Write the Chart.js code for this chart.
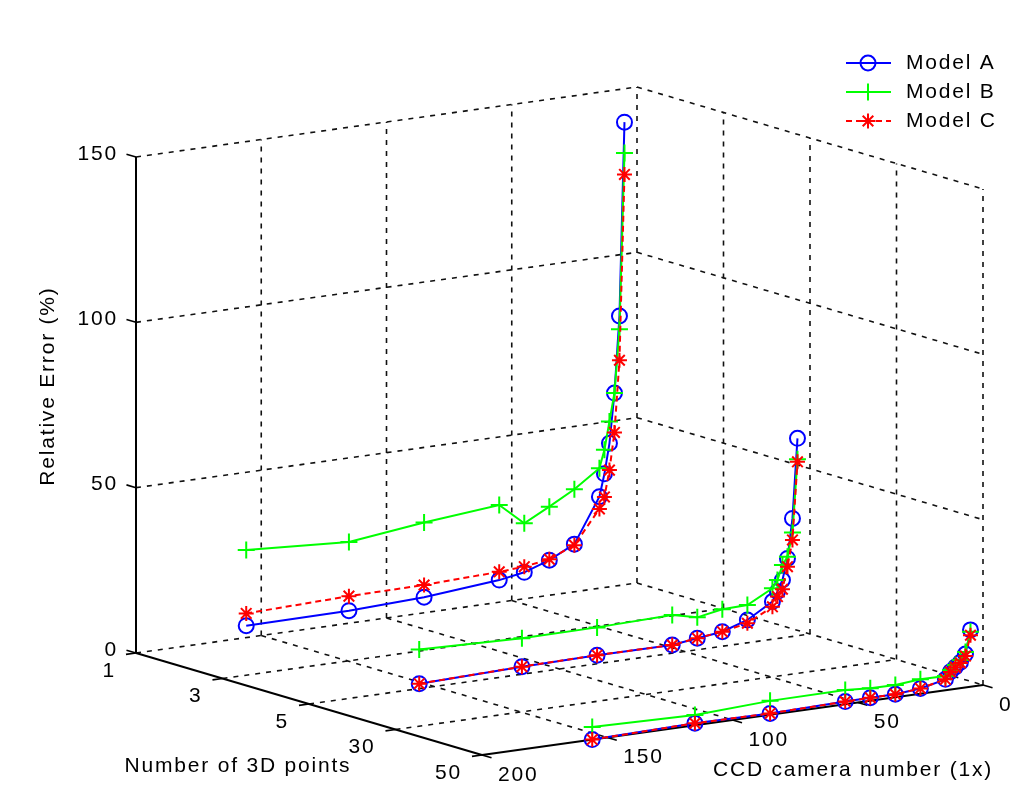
<!DOCTYPE html>
<html>
<head>
<meta charset="utf-8">
<script src="https://cdn.jsdelivr.net/npm/chart.js@4/dist/chart.umd.min.js"></script>
<style>
    html, body { margin: 0; padding: 0; background: #fff; }
    #wrap { width: 1024px; height: 795px; }
</style>
</head>
<body>
<div id="wrap"><canvas id="chart"></canvas></div>
<script>
// ---- data ----
const cameraNumbers = [156, 115, 85, 55, 45, 35, 25, 15, 13, 11, 9, 7, 5];
const cameraTicks = [0, 50, 100, 150, 200];
const pointTickLabels = ['1', '3', '5', '30', '50'];   // drawn at index 1..5
const errorTicks = [0, 50, 100, 150];
const sliceIndex = [1, 3, 5];                          // curves lie at "1", "5" and "50"

const errorA_p1 = [3.6, 3.8, 4.7, 6.7, 8.0, 10.6, 14.4, 27.7, 34.4, 43.4, 58.4, 81.5, 139.9];
const errorA_p5 = [1.5, 2.3, 2.6, 2.5, 3.5, 4.4, 6.9, 11.4, 14.2, 17.5, 23.8, 35.7, 59.7];
const errorA_p50 = [0.0, 0.6, 0.4, 0.8, 0.9, 0.9, 1.6, 3.3, 5.4, 6.6, 7.8, 10.1, 17.2];

const errorB_p1 = [26.5, 24.6, 27.3, 29.4, 22.8, 26.8, 31.0, 36.3, 41.7, 50.0, 58.4, 77.5, 130.6];
const errorB_p5 = [11.8, 10.9, 11.0, 11.6, 9.8, 11.2, 11.4, 15.4, 17.7, 22.0, 24.3, 31.4, 53.4];
const errorB_p50 = [3.8, 3.1, 4.2, 4.3, 3.8, 3.7, 4.4, 4.3, 5.9, 7.2, 8.5, 10.7, 16.6];

const errorC_p1 = [7.3, 8.2, 8.4, 9.2, 9.7, 10.9, 14.1, 24.0, 27.4, 35.3, 46.5, 68.1, 124.1];
const errorC_p5 = [1.5, 2.3, 2.6, 2.5, 3.5, 4.4, 5.9, 9.8, 12.7, 14.7, 21.3, 29.2, 52.6];
const errorC_p50 = [0.0, 0.6, 0.4, 0.8, 0.9, 0.9, 1.6, 3.3, 5.3, 6.5, 7.6, 9.5, 15.6];

const modelNames = ['Model A', 'Model B', 'Model C'];

// ---- 3D box placement on the page (orthographic view) ----
const CAM_MIN = 0, CAM_MAX = 200, ERR_MIN = 0, ERR_MAX = 150;
const cornerLeft = { x: 136, y: 653 };   // cam=200, points idx 1
const cornerFront = { x: 482, y: 755 };  // cam=200, points idx 5
const cornerRight = { x: 983, y: 685 };  // cam=0,   points idx 5
const boxHeight = 496;

function proj(cam, idx, err) {
    const u = (CAM_MAX - cam) / (CAM_MAX - CAM_MIN);
    const v = (idx - 1) / (pointTickLabels.length - 1);
    const w = (err - ERR_MIN) / (ERR_MAX - ERR_MIN);
    return {
        x: cornerLeft.x + u * (cornerRight.x - cornerFront.x) + v * (cornerFront.x - cornerLeft.x),
        y: cornerLeft.y + u * (cornerRight.y - cornerFront.y) + v * (cornerFront.y - cornerLeft.y) - w * boxHeight
    };
}

const FONT = '21px "Liberation Sans", Arial, sans-serif';
const NIDX = pointTickLabels.length;

function segment(a, b, opts) {
    return Object.assign({
        data: [proj(...a), proj(...b)],
        showLine: true,
        pointRadius: 0,
        borderColor: '#000',
        borderWidth: 1.6,
        order: 10
    }, opts);
}

const datasets = [];
const gridStyle = { borderDash: [5, 6], borderWidth: 1.6, borderColor: '#111', order: 20 };

// floor grid
cameraTicks.filter(c => c !== CAM_MAX).forEach(c => datasets.push(segment([c, 1, 0], [c, NIDX, 0], gridStyle)));
for (let i = 1; i < NIDX; i++) datasets.push(segment([CAM_MAX, i, 0], [CAM_MIN, i, 0], gridStyle));
// back wall (points idx 1)
cameraTicks.filter(c => c !== CAM_MAX).forEach(c => datasets.push(segment([c, 1, 0], [c, 1, ERR_MAX], gridStyle)));
errorTicks.filter(e => e !== 0).forEach(e => datasets.push(segment([CAM_MAX, 1, e], [CAM_MIN, 1, e], gridStyle)));
// side wall (camera 0)
for (let i = 2; i <= NIDX; i++) datasets.push(segment([CAM_MIN, i, 0], [CAM_MIN, i, ERR_MAX], gridStyle));
errorTicks.filter(e => e !== 0).forEach(e => datasets.push(segment([CAM_MIN, 1, e], [CAM_MIN, NIDX, e], gridStyle)));

// axes + ticks
datasets.push(segment([CAM_MAX, 1, ERR_MIN], [CAM_MAX, 1, ERR_MAX], { borderWidth: 2 }));
datasets.push(segment([CAM_MAX, 1, 0], [CAM_MAX, NIDX, 0], { borderWidth: 2 }));
datasets.push(segment([CAM_MAX, NIDX, 0], [CAM_MIN, NIDX, 0], { borderWidth: 2 }));
errorTicks.forEach(e => datasets.push(segment([CAM_MAX, 1, e], [CAM_MAX, 0.89, e])));
for (let i = 1; i <= NIDX; i++) datasets.push(segment([CAM_MAX, i, 0], [CAM_MAX + 4, i, 0]));
cameraTicks.forEach(c => datasets.push(segment([c, NIDX, 0], [c, NIDX + 0.11, 0])));

// curves
const styles = [
    { color: '#0000ff', pointStyle: 'circle', radius: 7.5, dash: [], order: 3, series: [errorA_p1, errorA_p5, errorA_p50] },
    { color: '#00ff00', pointStyle: 'cross', radius: 8.5, dash: [], order: 2, series: [errorB_p1, errorB_p5, errorB_p50] },
    { color: '#ff0000', pointStyle: 'star', radius: 7.5, dash: [6, 4], order: 1, series: [errorC_p1, errorC_p5, errorC_p50] }
];
styles.forEach((s, m) => {
    s.series.forEach((errs, k) => {
        datasets.push({
            label: modelNames[m],
            data: cameraNumbers.map((c, i) => proj(c, sliceIndex[k], errs[i])),
            showLine: true,
            borderColor: s.color,
            borderWidth: 2,
            borderDash: s.dash,
            pointStyle: s.pointStyle,
            pointRadius: s.radius,
            pointBorderColor: s.color,
            pointBackgroundColor: 'rgba(0,0,0,0)',
            pointBorderWidth: 2,
            order: s.order
        });
    });
});

// labels, titles and legend
const textPlugin = {
    id: 'text3d',
    afterDraw(chart) {
        const { ctx, scales } = chart;
        const px = p => ({ x: scales.x.getPixelForValue(p.x), y: scales.y.getPixelForValue(p.y) });
        ctx.save();
        ctx.fillStyle = '#000';
        ctx.font = FONT;
        ctx.letterSpacing = '1.8px';
        ctx.textBaseline = 'middle';

        ctx.textAlign = 'right';
        errorTicks.forEach(e => {
            const p = px(proj(CAM_MAX, 1, e));
            ctx.fillText(String(e), p.x - 18, p.y - 3);
        });
        pointTickLabels.forEach((t, i) => {
            const p = px(proj(CAM_MAX, i + 1, 0));
            ctx.fillText(t, p.x - 20, p.y + 18);
        });
        ctx.textAlign = 'left';
        cameraTicks.forEach(c => {
            const p = px(proj(c, NIDX, 0));
            ctx.fillText(String(c), p.x + 16, p.y + 20);
        });

        ctx.textAlign = 'center';
        ctx.fillText('Number of 3D points', 238, 766);
        ctx.fillText('CCD camera number (1x)', 853, 770);
        ctx.save();
        ctx.translate(48, 386);
        ctx.rotate(-Math.PI / 2);
        ctx.fillText('Relative Error (%)', 0, 0);
        ctx.restore();

        // legend
        ctx.textAlign = 'left';
        styles.forEach((s, m) => {
            const y = 63 + m * 29;
            ctx.strokeStyle = s.color;
            ctx.lineWidth = 2;
            ctx.setLineDash(s.dash);
            ctx.beginPath();
            ctx.moveTo(846, y);
            ctx.lineTo(891, y);
            ctx.stroke();
            ctx.setLineDash([]);
            ctx.fillStyle = 'rgba(0,0,0,0)';
            Chart.helpers.drawPoint(ctx, { pointStyle: s.pointStyle, radius: s.radius, borderWidth: 2, rotation: 0 }, 868, y);
            ctx.fillStyle = '#000';
            ctx.fillText(modelNames[m], 906, y);
        });
        ctx.restore();
    }
};

new Chart(document.getElementById('chart'), {
    type: 'scatter',
    data: { datasets },
    options: {
        responsive: true,
        maintainAspectRatio: false,
        animation: false,
        layout: { padding: 0, autoPadding: false },
        plugins: { legend: { display: false }, tooltip: { enabled: false } },
        scales: {
            x: { type: 'linear', min: 0, max: 1024, display: false },
            y: { type: 'linear', min: 0, max: 795, reverse: true, display: false }
        }
    },
    plugins: [textPlugin]
});
</script>
</body>
</html>
